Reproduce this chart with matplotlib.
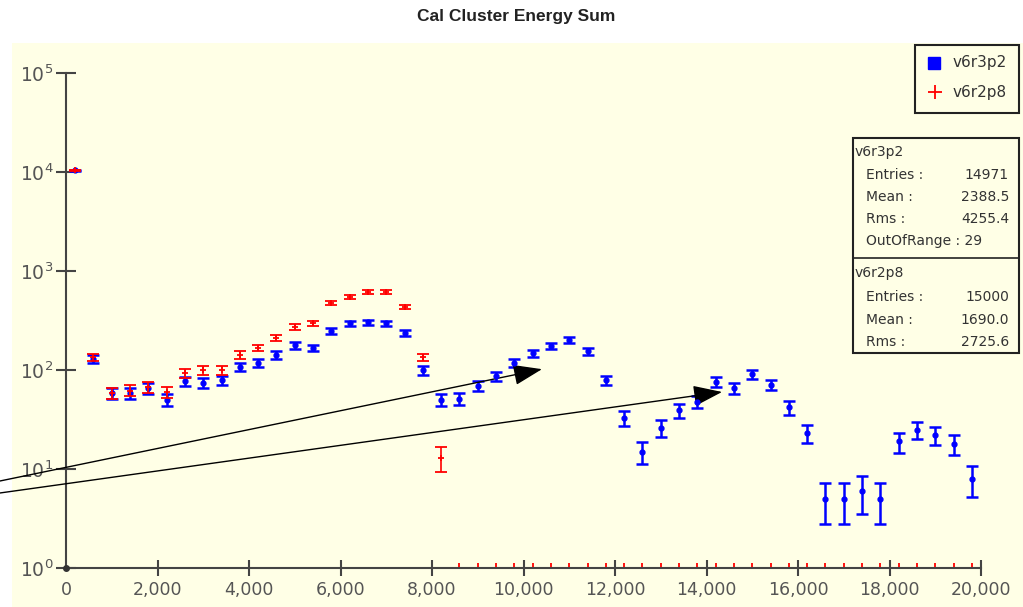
import numpy as np
import matplotlib
matplotlib.use('Agg')
import matplotlib.pyplot as plt
from matplotlib.patches import Rectangle
from matplotlib.lines import Line2D
from matplotlib.ticker import NullLocator

# histogram bins (width 400) and counts
bin_centers = np.arange(200, 20000, 400)
blue_counts = np.array([10378, 130, 58, 58, 66, 50, 77, 74, 79, 107,
                        118, 142, 178, 167, 248, 298, 305, 298, 236, 100,
                        50, 51, 69, 87, 118, 148, 175, 200, 155, 79,
                        33, 15, 26, 39, 48, 76, 66, 91, 71, 42,
                        23, 5, 5, 6, 5, 19, 25, 22, 18, 8])
red_counts = np.array([10404, 135, 58, 62, 67, 60, 93, 100, 100, 142,
                       167, 210, 272, 298, 475, 548, 614, 614, 433, 135,
                       13] + [0] * 29)

x_ticks = list(range(0, 20001, 2000))
y_exps = [0, 1, 2, 3, 4, 5]

stats_blue = [("Entries :", "14971"), ("Mean :", "2388.5"), ("Rms :", "4255.4")]
stats_red = [("Entries :", "15000"), ("Mean :", "1690.0"), ("Rms :", "2725.6")]

# arrows drawn on the picture (tail, head) in data units
arrows = [((-1508, 7.46), (10404, 102)),
          ((-1508, 5.67), (14340, 60))]

W, H = 1023, 607
BG = '#FFFFE6'
AXC = '#444444'


def fx(x):
    return x / W


def fy(y):
    return 1 - y / H


fig = plt.figure(figsize=(W / 100, H / 100), dpi=100)
fig.patch.set_facecolor('white')
panel = Rectangle((fx(12), 0), 1 - fx(12), fy(43), transform=fig.transFigure,
                  facecolor=BG, edgecolor='none', zorder=-10)
fig.add_artist(panel)

ax = fig.add_axes([fx(66), fy(568), (981 - 66) / W, (568 - 73) / H])
ax.set_zorder(1)
ax.set_facecolor('none')
ax.set_yscale('log')
ax.set_xlim(0, 20000)
ax.set_ylim(1, 1e5)

# blue series
ax.errorbar(bin_centers, blue_counts, yerr=np.sqrt(blue_counts), fmt='o', color='#0000FF',
            ms=3.5, capsize=4.5, elinewidth=1.8, capthick=1.8, zorder=3)

# red series (non empty bins), empty bins are marked on the axis
nz = red_counts > 0
ax.errorbar(bin_centers[nz], red_counts[nz], yerr=np.sqrt(red_counts[nz]), fmt='+',
            color='#FF0000', ms=5, mew=1.3, capsize=4.5, elinewidth=1.2, capthick=1.2, zorder=4)
ax.plot(bin_centers[~nz], np.full((~nz).sum(), 1.07), '|', color='#FF0000', ms=3, mew=1.3,
        clip_on=False, zorder=4)

ax.plot(0, 1, 'o', color='#333333', ms=4, clip_on=False, zorder=6)

for tail, head in arrows:
    ax.annotate('', xy=head, xytext=tail,
                arrowprops=dict(arrowstyle='-|>,head_length=1.0,head_width=0.36',
                                mutation_scale=18, color='black', lw=1,
                                shrinkA=0, shrinkB=0),
                annotation_clip=False)

for s in ['top', 'right']:
    ax.spines[s].set_visible(False)
for s in ['left', 'bottom']:
    ax.spines[s].set_color(AXC)
    ax.spines[s].set_linewidth(1.5)

ax.set_xticks(x_ticks)
ax.set_xticklabels([f'{v:,}' for v in x_ticks])
ax.tick_params(axis='x', direction='inout', length=11, width=1.5, color=AXC,
               labelsize=12.5, labelcolor='#555555', pad=4)
ax.xaxis.get_major_ticks()[0].tick1line.set_visible(False)

ax.set_yticks([10.0 ** k for k in y_exps])
ax.set_yticklabels([r'$\mathregular{10^{%d}}$' % k for k in y_exps])
ax.yaxis.set_minor_locator(NullLocator())
ax.tick_params(axis='y', direction='inout', length=14, width=1.5, color=AXC,
               labelsize=13.5, labelcolor='#555555', pad=2)

fig.text(fx(516), fy(17), 'Cal Cluster Energy Sum', ha='center', va='center',
         fontsize=12.5, fontweight='bold', family='Liberation Sans', color='#222222')

# legend box
fig.add_artist(Rectangle((fx(915), fy(113)), 104 / W, 68 / H, transform=fig.transFigure,
                         facecolor=BG, edgecolor='#222222', lw=1.5, zorder=5))
fig.add_artist(Line2D([fx(934)], [fy(63)], marker='s', ms=8, color='#0000FF',
                      transform=fig.transFigure, zorder=6))
fig.add_artist(Line2D([fx(935)], [fy(92)], marker='+', ms=10, mew=1.3, color='#FF0000',
                      transform=fig.transFigure, zorder=6))
fig.text(fx(953), fy(63), 'v6r3p2', ha='left', va='center', fontsize=11, color='#333333', zorder=7)
fig.text(fx(953), fy(92), 'v6r2p8', ha='left', va='center', fontsize=11, color='#333333', zorder=7)

# statistics box
fig.add_artist(Rectangle((fx(853), fy(353)), 166 / W, (353 - 138) / H, transform=fig.transFigure,
                         facecolor=BG, edgecolor='#222222', lw=1.5, zorder=5))
fig.add_artist(Line2D([fx(853), fx(1019)], [fy(258), fy(258)], color='#222222', lw=1.2,
                      transform=fig.transFigure, zorder=6))

fs = 10
fig.text(fx(855), fy(152), 'v6r3p2', ha='left', va='center', fontsize=fs, color='#333333', zorder=7)
for i, (lab, val) in enumerate(stats_blue):
    yy = 175 + 22 * i
    fig.text(fx(866), fy(yy), lab, ha='left', va='center', fontsize=fs, color='#333333', zorder=7)
    fig.text(fx(1009), fy(yy), val, ha='right', va='center', fontsize=fs, color='#333333', zorder=7)
fig.text(fx(866), fy(241), 'OutOfRange : 29', ha='left', va='center', fontsize=fs,
         color='#333333', zorder=7)

fig.text(fx(855), fy(273), 'v6r2p8', ha='left', va='center', fontsize=fs, color='#333333', zorder=7)
for i, (lab, val) in enumerate(stats_red):
    yy = 297 + 22.5 * i
    fig.text(fx(866), fy(yy), lab, ha='left', va='center', fontsize=fs, color='#333333', zorder=7)
    fig.text(fx(1009), fy(yy), val, ha='right', va='center', fontsize=fs, color='#333333', zorder=7)

fig.savefig('out.png', dpi=100)
